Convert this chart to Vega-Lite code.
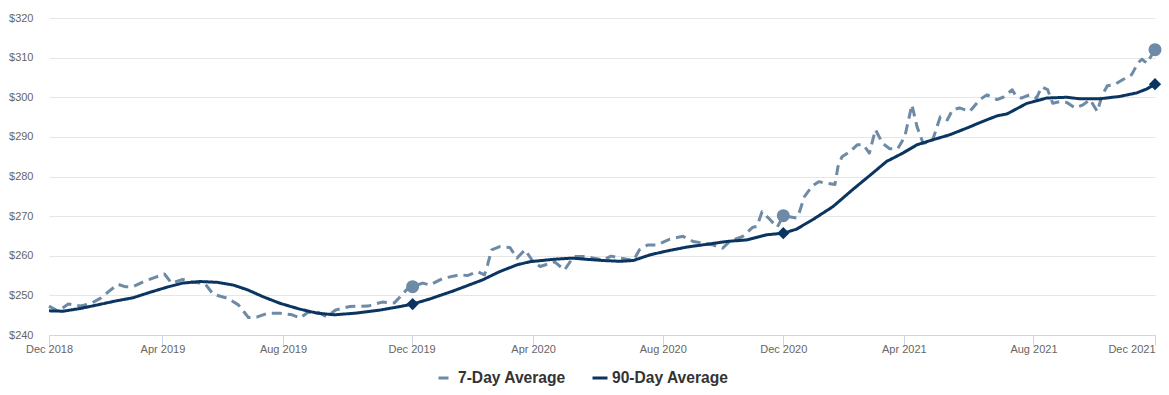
{
  "$schema": "https://vega.github.io/schema/vega-lite/v6.json",
  "width": 1106,
  "height": 317,
  "autosize": "none",
  "padding": {"left": 49, "top": 18, "right": 14, "bottom": 60},
  "background": "white",
  "config": {"view": {"stroke": null}, "font": "Liberation Sans"},
  "datasets": {
    "series": [
      {"date": "2018-12-22", "series": "7-Day Average", "value": 247.3},
      {"date": "2018-12-31", "series": "7-Day Average", "value": 246.0},
      {"date": "2019-01-10", "series": "7-Day Average", "value": 247.8},
      {"date": "2019-01-22", "series": "7-Day Average", "value": 247.3},
      {"date": "2019-02-01", "series": "7-Day Average", "value": 247.9},
      {"date": "2019-02-11", "series": "7-Day Average", "value": 249.3},
      {"date": "2019-02-20", "series": "7-Day Average", "value": 251.2},
      {"date": "2019-02-28", "series": "7-Day Average", "value": 252.8},
      {"date": "2019-03-07", "series": "7-Day Average", "value": 252.2},
      {"date": "2019-03-15", "series": "7-Day Average", "value": 252.2},
      {"date": "2019-03-24", "series": "7-Day Average", "value": 253.3},
      {"date": "2019-04-03", "series": "7-Day Average", "value": 254.3},
      {"date": "2019-04-15", "series": "7-Day Average", "value": 255.4},
      {"date": "2019-04-22", "series": "7-Day Average", "value": 253.1},
      {"date": "2019-05-03", "series": "7-Day Average", "value": 254.0},
      {"date": "2019-05-13", "series": "7-Day Average", "value": 253.3},
      {"date": "2019-05-25", "series": "7-Day Average", "value": 253.0},
      {"date": "2019-06-02", "series": "7-Day Average", "value": 250.3},
      {"date": "2019-06-16", "series": "7-Day Average", "value": 249.3},
      {"date": "2019-06-27", "series": "7-Day Average", "value": 247.6},
      {"date": "2019-07-07", "series": "7-Day Average", "value": 244.4},
      {"date": "2019-07-15", "series": "7-Day Average", "value": 244.5},
      {"date": "2019-07-26", "series": "7-Day Average", "value": 245.5},
      {"date": "2019-08-07", "series": "7-Day Average", "value": 245.5},
      {"date": "2019-08-19", "series": "7-Day Average", "value": 245.1},
      {"date": "2019-08-27", "series": "7-Day Average", "value": 244.3},
      {"date": "2019-09-04", "series": "7-Day Average", "value": 245.8},
      {"date": "2019-09-14", "series": "7-Day Average", "value": 245.7},
      {"date": "2019-09-22", "series": "7-Day Average", "value": 244.6},
      {"date": "2019-10-01", "series": "7-Day Average", "value": 246.3},
      {"date": "2019-10-15", "series": "7-Day Average", "value": 247.2},
      {"date": "2019-11-02", "series": "7-Day Average", "value": 247.3},
      {"date": "2019-11-16", "series": "7-Day Average", "value": 248.3},
      {"date": "2019-11-28", "series": "7-Day Average", "value": 248.1},
      {"date": "2019-12-04", "series": "7-Day Average", "value": 249.7},
      {"date": "2019-12-10", "series": "7-Day Average", "value": 251.4},
      {"date": "2019-12-16", "series": "7-Day Average", "value": 252.2},
      {"date": "2019-12-26", "series": "7-Day Average", "value": 253.1},
      {"date": "2020-01-02", "series": "7-Day Average", "value": 252.6},
      {"date": "2020-01-15", "series": "7-Day Average", "value": 254.3},
      {"date": "2020-02-01", "series": "7-Day Average", "value": 255.2},
      {"date": "2020-02-08", "series": "7-Day Average", "value": 255.0},
      {"date": "2020-02-18", "series": "7-Day Average", "value": 256.0},
      {"date": "2020-02-25", "series": "7-Day Average", "value": 255.2},
      {"date": "2020-02-28", "series": "7-Day Average", "value": 257.7},
      {"date": "2020-03-03", "series": "7-Day Average", "value": 261.5},
      {"date": "2020-03-11", "series": "7-Day Average", "value": 262.3},
      {"date": "2020-03-21", "series": "7-Day Average", "value": 262.1},
      {"date": "2020-03-28", "series": "7-Day Average", "value": 259.4},
      {"date": "2020-04-05", "series": "7-Day Average", "value": 261.5},
      {"date": "2020-04-13", "series": "7-Day Average", "value": 258.5},
      {"date": "2020-04-20", "series": "7-Day Average", "value": 257.3},
      {"date": "2020-04-30", "series": "7-Day Average", "value": 258.1},
      {"date": "2020-05-04", "series": "7-Day Average", "value": 258.5},
      {"date": "2020-05-14", "series": "7-Day Average", "value": 256.4},
      {"date": "2020-05-23", "series": "7-Day Average", "value": 259.8},
      {"date": "2020-06-02", "series": "7-Day Average", "value": 259.8},
      {"date": "2020-06-12", "series": "7-Day Average", "value": 259.4},
      {"date": "2020-06-21", "series": "7-Day Average", "value": 258.9},
      {"date": "2020-06-29", "series": "7-Day Average", "value": 259.9},
      {"date": "2020-07-08", "series": "7-Day Average", "value": 259.4},
      {"date": "2020-07-21", "series": "7-Day Average", "value": 258.8},
      {"date": "2020-07-27", "series": "7-Day Average", "value": 261.5},
      {"date": "2020-08-04", "series": "7-Day Average", "value": 262.7},
      {"date": "2020-08-13", "series": "7-Day Average", "value": 262.7},
      {"date": "2020-08-26", "series": "7-Day Average", "value": 264.2},
      {"date": "2020-09-08", "series": "7-Day Average", "value": 264.9},
      {"date": "2020-09-18", "series": "7-Day Average", "value": 263.6},
      {"date": "2020-09-28", "series": "7-Day Average", "value": 263.2},
      {"date": "2020-10-08", "series": "7-Day Average", "value": 262.7},
      {"date": "2020-10-17", "series": "7-Day Average", "value": 261.9},
      {"date": "2020-10-24", "series": "7-Day Average", "value": 263.6},
      {"date": "2020-11-06", "series": "7-Day Average", "value": 264.9},
      {"date": "2020-11-16", "series": "7-Day Average", "value": 267.2},
      {"date": "2020-11-20", "series": "7-Day Average", "value": 267.4},
      {"date": "2020-11-25", "series": "7-Day Average", "value": 271.1},
      {"date": "2020-12-03", "series": "7-Day Average", "value": 269.1},
      {"date": "2020-12-10", "series": "7-Day Average", "value": 267.2},
      {"date": "2020-12-16", "series": "7-Day Average", "value": 270.1},
      {"date": "2020-12-29", "series": "7-Day Average", "value": 269.5},
      {"date": "2021-01-01", "series": "7-Day Average", "value": 271.1},
      {"date": "2021-01-06", "series": "7-Day Average", "value": 275.0},
      {"date": "2021-01-14", "series": "7-Day Average", "value": 277.7},
      {"date": "2021-01-20", "series": "7-Day Average", "value": 278.7},
      {"date": "2021-01-28", "series": "7-Day Average", "value": 278.3},
      {"date": "2021-02-05", "series": "7-Day Average", "value": 278.0},
      {"date": "2021-02-08", "series": "7-Day Average", "value": 282.5},
      {"date": "2021-02-12", "series": "7-Day Average", "value": 285.0},
      {"date": "2021-02-20", "series": "7-Day Average", "value": 286.3},
      {"date": "2021-02-27", "series": "7-Day Average", "value": 288.0},
      {"date": "2021-03-05", "series": "7-Day Average", "value": 288.0},
      {"date": "2021-03-11", "series": "7-Day Average", "value": 285.9},
      {"date": "2021-03-17", "series": "7-Day Average", "value": 291.8},
      {"date": "2021-03-24", "series": "7-Day Average", "value": 288.4},
      {"date": "2021-03-31", "series": "7-Day Average", "value": 287.0},
      {"date": "2021-04-08", "series": "7-Day Average", "value": 287.0},
      {"date": "2021-04-15", "series": "7-Day Average", "value": 290.1},
      {"date": "2021-04-22", "series": "7-Day Average", "value": 298.1},
      {"date": "2021-04-27", "series": "7-Day Average", "value": 292.6},
      {"date": "2021-05-03", "series": "7-Day Average", "value": 288.4},
      {"date": "2021-05-12", "series": "7-Day Average", "value": 288.8},
      {"date": "2021-05-20", "series": "7-Day Average", "value": 295.1},
      {"date": "2021-05-27", "series": "7-Day Average", "value": 294.3},
      {"date": "2021-06-01", "series": "7-Day Average", "value": 296.8},
      {"date": "2021-06-08", "series": "7-Day Average", "value": 297.3},
      {"date": "2021-06-18", "series": "7-Day Average", "value": 296.4},
      {"date": "2021-06-28", "series": "7-Day Average", "value": 299.4},
      {"date": "2021-07-05", "series": "7-Day Average", "value": 300.6},
      {"date": "2021-07-15", "series": "7-Day Average", "value": 299.4},
      {"date": "2021-07-21", "series": "7-Day Average", "value": 300.0},
      {"date": "2021-07-30", "series": "7-Day Average", "value": 301.9},
      {"date": "2021-08-03", "series": "7-Day Average", "value": 300.2},
      {"date": "2021-08-08", "series": "7-Day Average", "value": 299.8},
      {"date": "2021-08-16", "series": "7-Day Average", "value": 300.6},
      {"date": "2021-08-23", "series": "7-Day Average", "value": 299.8},
      {"date": "2021-08-28", "series": "7-Day Average", "value": 302.6},
      {"date": "2021-09-03", "series": "7-Day Average", "value": 301.9},
      {"date": "2021-09-08", "series": "7-Day Average", "value": 298.5},
      {"date": "2021-09-15", "series": "7-Day Average", "value": 298.9},
      {"date": "2021-09-22", "series": "7-Day Average", "value": 298.7},
      {"date": "2021-09-30", "series": "7-Day Average", "value": 297.3},
      {"date": "2021-10-08", "series": "7-Day Average", "value": 298.1},
      {"date": "2021-10-15", "series": "7-Day Average", "value": 299.4},
      {"date": "2021-10-22", "series": "7-Day Average", "value": 296.4},
      {"date": "2021-10-27", "series": "7-Day Average", "value": 300.6},
      {"date": "2021-11-01", "series": "7-Day Average", "value": 302.9},
      {"date": "2021-11-08", "series": "7-Day Average", "value": 303.2},
      {"date": "2021-11-16", "series": "7-Day Average", "value": 304.4},
      {"date": "2021-11-25", "series": "7-Day Average", "value": 305.7},
      {"date": "2021-12-01", "series": "7-Day Average", "value": 308.6},
      {"date": "2021-12-05", "series": "7-Day Average", "value": 309.6},
      {"date": "2021-12-10", "series": "7-Day Average", "value": 308.6},
      {"date": "2021-12-13", "series": "7-Day Average", "value": 309.9},
      {"date": "2021-12-18", "series": "7-Day Average", "value": 312.0},
      {"date": "2018-12-22", "series": "90-Day Average", "value": 246.1},
      {"date": "2019-01-05", "series": "90-Day Average", "value": 246.0},
      {"date": "2019-01-22", "series": "90-Day Average", "value": 246.7},
      {"date": "2019-02-08", "series": "90-Day Average", "value": 247.6},
      {"date": "2019-02-26", "series": "90-Day Average", "value": 248.6},
      {"date": "2019-03-15", "series": "90-Day Average", "value": 249.4},
      {"date": "2019-04-01", "series": "90-Day Average", "value": 250.8},
      {"date": "2019-04-18", "series": "90-Day Average", "value": 252.1},
      {"date": "2019-05-03", "series": "90-Day Average", "value": 253.1},
      {"date": "2019-05-20", "series": "90-Day Average", "value": 253.5},
      {"date": "2019-06-06", "series": "90-Day Average", "value": 253.3},
      {"date": "2019-06-22", "series": "90-Day Average", "value": 252.6},
      {"date": "2019-07-06", "series": "90-Day Average", "value": 251.4},
      {"date": "2019-07-21", "series": "90-Day Average", "value": 249.7},
      {"date": "2019-08-07", "series": "90-Day Average", "value": 248.0},
      {"date": "2019-08-27", "series": "90-Day Average", "value": 246.5},
      {"date": "2019-09-13", "series": "90-Day Average", "value": 245.5},
      {"date": "2019-09-30", "series": "90-Day Average", "value": 245.1},
      {"date": "2019-10-20", "series": "90-Day Average", "value": 245.5},
      {"date": "2019-11-14", "series": "90-Day Average", "value": 246.3},
      {"date": "2019-12-04", "series": "90-Day Average", "value": 247.2},
      {"date": "2019-12-16", "series": "90-Day Average", "value": 247.8},
      {"date": "2020-01-02", "series": "90-Day Average", "value": 249.1},
      {"date": "2020-01-25", "series": "90-Day Average", "value": 251.1},
      {"date": "2020-02-23", "series": "90-Day Average", "value": 253.9},
      {"date": "2020-03-11", "series": "90-Day Average", "value": 256.0},
      {"date": "2020-03-28", "series": "90-Day Average", "value": 257.7},
      {"date": "2020-04-10", "series": "90-Day Average", "value": 258.5},
      {"date": "2020-05-03", "series": "90-Day Average", "value": 259.1},
      {"date": "2020-05-22", "series": "90-Day Average", "value": 259.4},
      {"date": "2020-06-05", "series": "90-Day Average", "value": 259.1},
      {"date": "2020-06-21", "series": "90-Day Average", "value": 258.8},
      {"date": "2020-07-08", "series": "90-Day Average", "value": 258.6},
      {"date": "2020-07-21", "series": "90-Day Average", "value": 258.8},
      {"date": "2020-08-06", "series": "90-Day Average", "value": 260.2},
      {"date": "2020-08-23", "series": "90-Day Average", "value": 261.2},
      {"date": "2020-09-12", "series": "90-Day Average", "value": 262.2},
      {"date": "2020-10-02", "series": "90-Day Average", "value": 262.9},
      {"date": "2020-10-21", "series": "90-Day Average", "value": 263.6},
      {"date": "2020-11-10", "series": "90-Day Average", "value": 264.0},
      {"date": "2020-11-30", "series": "90-Day Average", "value": 265.3},
      {"date": "2020-12-16", "series": "90-Day Average", "value": 265.7},
      {"date": "2020-12-29", "series": "90-Day Average", "value": 266.7},
      {"date": "2021-01-14", "series": "90-Day Average", "value": 269.1},
      {"date": "2021-02-03", "series": "90-Day Average", "value": 272.4},
      {"date": "2021-02-23", "series": "90-Day Average", "value": 276.8},
      {"date": "2021-03-14", "series": "90-Day Average", "value": 280.8},
      {"date": "2021-03-28", "series": "90-Day Average", "value": 283.8},
      {"date": "2021-04-13", "series": "90-Day Average", "value": 285.9},
      {"date": "2021-04-27", "series": "90-Day Average", "value": 288.0},
      {"date": "2021-05-13", "series": "90-Day Average", "value": 289.3},
      {"date": "2021-05-29", "series": "90-Day Average", "value": 290.5},
      {"date": "2021-06-15", "series": "90-Day Average", "value": 292.2},
      {"date": "2021-07-01", "series": "90-Day Average", "value": 293.9},
      {"date": "2021-07-15", "series": "90-Day Average", "value": 295.3},
      {"date": "2021-07-25", "series": "90-Day Average", "value": 295.8},
      {"date": "2021-08-13", "series": "90-Day Average", "value": 298.4},
      {"date": "2021-09-02", "series": "90-Day Average", "value": 299.8},
      {"date": "2021-09-22", "series": "90-Day Average", "value": 300.0},
      {"date": "2021-10-05", "series": "90-Day Average", "value": 299.6},
      {"date": "2021-10-24", "series": "90-Day Average", "value": 299.6},
      {"date": "2021-11-13", "series": "90-Day Average", "value": 300.2},
      {"date": "2021-11-30", "series": "90-Day Average", "value": 301.1},
      {"date": "2021-12-10", "series": "90-Day Average", "value": 302.1},
      {"date": "2021-12-18", "series": "90-Day Average", "value": 303.3}
    ],
    "markers": [
      {"date": "2019-12-16", "series": "7-Day Average", "value": 252.2},
      {"date": "2020-12-16", "series": "7-Day Average", "value": 270.1},
      {"date": "2021-12-18", "series": "7-Day Average", "value": 312.0},
      {"date": "2019-12-16", "series": "90-Day Average", "value": 247.8},
      {"date": "2020-12-16", "series": "90-Day Average", "value": 265.7},
      {"date": "2021-12-18", "series": "90-Day Average", "value": 303.3}
    ]
  },
  "encoding": {
    "x": {
      "field": "date",
      "type": "temporal",
      "scale": {
        "type": "utc",
        "domain": [
          {"year": 2018, "month": 12, "date": 22, "utc": true},
          {"year": 2021, "month": 12, "date": 18, "utc": true}
        ]
      },
      "axis": {
        "title": null,
        "grid": false,
        "values": [
          {"year": 2018, "month": 12, "date": 22, "utc": true},
          {"year": 2019, "month": 4, "date": 13, "utc": true},
          {"year": 2019, "month": 8, "date": 10, "utc": true},
          {"year": 2019, "month": 12, "date": 15, "utc": true},
          {"year": 2020, "month": 4, "date": 13, "utc": true},
          {"year": 2020, "month": 8, "date": 19, "utc": true},
          {"year": 2020, "month": 12, "date": 16, "utc": true},
          {"year": 2021, "month": 4, "date": 14, "utc": true},
          {"year": 2021, "month": 8, "date": 20, "utc": true},
          {"year": 2021, "month": 12, "date": 18, "utc": true}
        ],
        "format": "%b %Y",
        "labelFont": "Liberation Sans",
        "labelFontSize": 11,
        "labelColor": "#666666",
        "domainColor": "#ccd6eb",
        "domainWidth": 1,
        "tickColor": "#ccd6eb",
        "tickSize": 10,
        "labelPadding": -2,
        "labelOverlap": false,
        "labelFlush": false,
        "labelAlign": {"condition": {"test": "datum.label == 'Dec 2021'", "value": "right"}, "value": "center"}
      }
    },
    "y": {
      "field": "value",
      "type": "quantitative",
      "scale": {"domain": [240, 320], "nice": false, "zero": false},
      "axis": {
        "title": null,
        "values": [240, 250, 260, 270, 280, 290, 300, 310, 320],
        "labelExpr": "'$' + datum.value",
        "labelFont": "Liberation Sans",
        "labelFontSize": 11,
        "labelColor": "#666666",
        "domain": false,
        "ticks": false,
        "tickSize": 0,
        "labelPadding": 16,
        "gridColor": "#e6e6e6",
        "gridWidth": 1
      }
    }
  },
  "layer": [
    {
      "data": {"name": "series"},
      "mark": {"type": "line", "strokeWidth": 3, "strokeCap": "butt", "strokeJoin": "round"},
      "encoding": {
        "color": {
          "field": "series",
          "type": "nominal",
          "scale": {"domain": ["7-Day Average", "90-Day Average"], "range": ["#6d8aa6", "#0b3561"]},
          "legend": {
            "orient": "none", "legendX": 388, "legendY": 351, "direction": "horizontal",
            "title": null, "padding": 0, "symbolType": "stroke", "symbolSize": 225, "symbolStrokeWidth": 3,
            "labelFont": "Liberation Sans", "labelFontSize": 15.6, "labelFontWeight": "bold",
            "labelColor": "#333333", "labelOffset": 3, "columnPadding": 20, "gridAlign": "none"
          }
        },
        "strokeDash": {
          "field": "series",
          "type": "nominal",
          "scale": {"domain": ["7-Day Average", "90-Day Average"], "range": [[10, 6], [1, 0]]},
          "legend": {
            "orient": "none", "legendX": 388, "legendY": 351, "direction": "horizontal",
            "title": null, "padding": 0, "symbolType": "stroke", "symbolSize": 225, "symbolStrokeWidth": 3,
            "labelFont": "Liberation Sans", "labelFontSize": 15.6, "labelFontWeight": "bold",
            "labelColor": "#333333", "labelOffset": 3, "columnPadding": 20, "gridAlign": "none"
          }
        }
      }
    },
    {
      "data": {"name": "markers"},
      "transform": [{"filter": "datum.series == '7-Day Average'"}],
      "mark": {"type": "point", "shape": "circle", "filled": true, "opacity": 1, "size": 170, "color": "#6d8aa6"},
      "encoding": {}
    },
    {
      "data": {"name": "markers"},
      "transform": [{"filter": "datum.series == '90-Day Average'"}],
      "mark": {"type": "point", "shape": "diamond", "filled": true, "opacity": 1, "size": 150, "color": "#0b3561"},
      "encoding": {}
    }
  ]
}
